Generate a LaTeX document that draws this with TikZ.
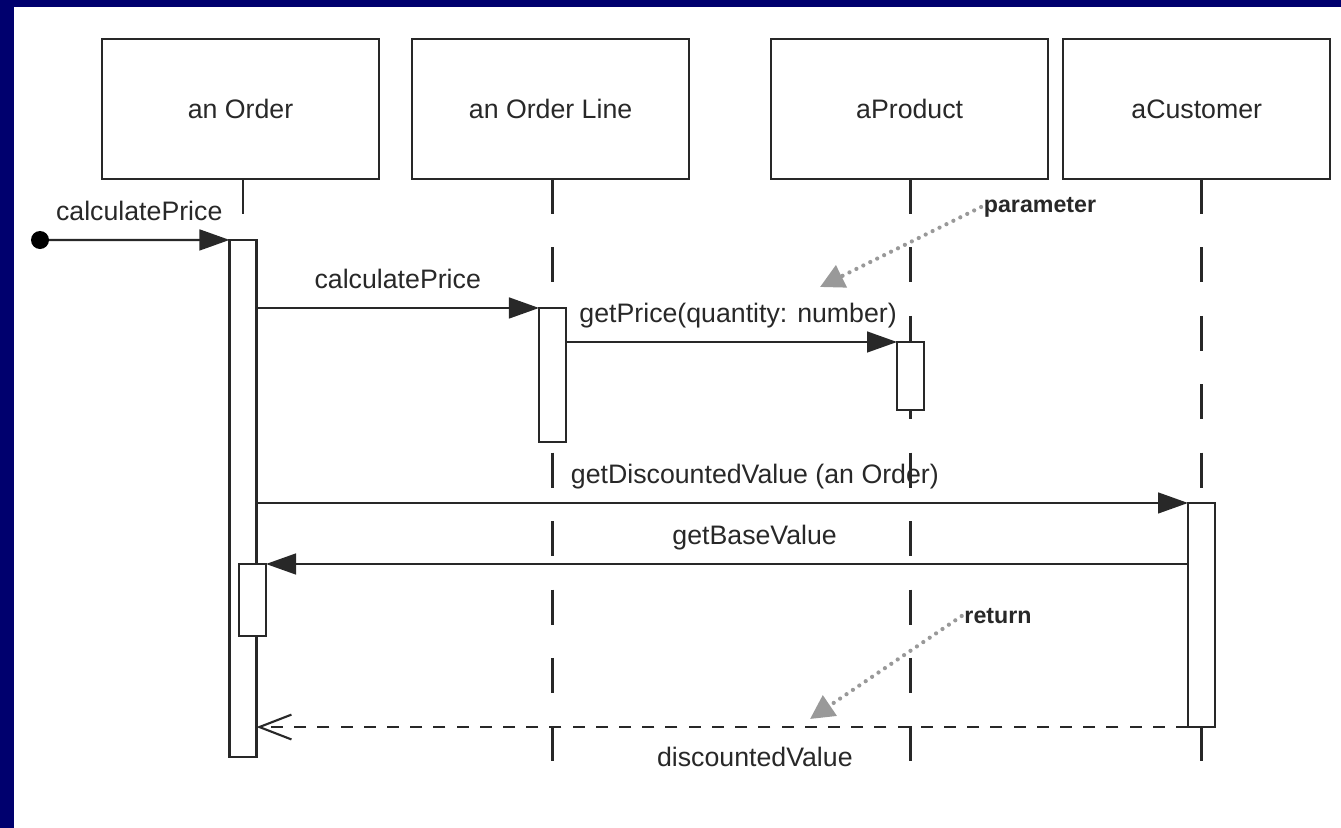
\documentclass[tikz,border=0pt]{standalone}
\usepackage{fontspec}
\setmainfont{Liberation Sans}
\usetikzlibrary{arrows.meta,positioning}
\definecolor{navy}{RGB}{0,0,110}
\definecolor{ink}{RGB}{40,40,40}

\begin{document}
\begin{tikzpicture}[x=0.025cm,y=-0.025cm,every node/.style={outer sep=0pt},
 obj/.style={draw=ink,line width=1.6pt,minimum width=6.925cm,minimum height=3.5cm,
 font=\fontsize{19}{23}\selectfont,text=ink},
 act/.style={draw=ink,line width=1.5pt,fill=white,minimum width=0.675cm,inner sep=0pt},
 lifeline/.style={draw=ink,line width=1.5pt,dash pattern=on 0.875cm off 0.835cm},
 msg/.style={draw=ink,line width=1.5pt,-{Triangle[length=0.75cm,width=0.52cm]}},
 ret/.style={draw=ink,line width=1.5pt,dash pattern=on 0.3cm off 0.28cm,
 -{Straight Barb[length=0.8cm,width=0.62cm]}},
 lbl/.style={anchor=base,yshift=0.475cm,inner sep=0pt,font=\fontsize{19}{23}\selectfont,text=ink},
 lblb/.style={anchor=base,yshift=-0.975cm,inner sep=0pt,font=\fontsize{19}{23}\selectfont,text=ink},
 note/.style={inner sep=2pt,font=\bfseries\fontsize{16.5}{20}\selectfont,text=ink},
 hint/.style={draw=black!40,line width=3pt,line cap=round,dash pattern=on 0pt off 5.5pt,
 -{Triangle[length=0.6cm,width=0.6cm]}},
 dot/.style={circle,fill=black,minimum size=0.45cm,inner sep=0pt}]

  % frame
  \fill[navy] (0,0) rectangle (1341,828);
  \fill[white] (14,7) rectangle (1341,828);
  \useasboundingbox (0,0) rectangle (1341,828);

  % objects
  \node[obj] (o1) at (240.5,109) {an Order};
  \node[obj,right=0.825cm of o1] (o2) {an Order Line};
  \node[obj,right=2.05cm of o2] (o3) {aProduct};
  \node[obj,minimum width=6.675cm,right=0.375cm of o3] (o4) {aCustomer};

  % lifelines
  \coordinate (bot) at (0,762);
  \path (243,498.5) coordinate (c1) (552.5,375) coordinate (c2)
        (910.5,376) coordinate (c3) (1201.5,615) coordinate (c4);
  \draw[lifeline] (c1 |- o1.south) -- (c1);
  \foreach \X in {2,3,4}
  {\draw[lifeline] (c\X |- o\X.south) -- (c\X |- bot);}

  % activations
  \node[act,minimum height=12.925cm] (a1) at (c1) {};
  \node[act,minimum height=1.8cm] (a1n) at (252.5,600) {};
  \node[act,minimum height=3.35cm] (a2) at (c2) {};
  \node[act,minimum height=1.7cm] (a3) at (c3) {};
  \node[act,minimum height=5.6cm] (a4) at (c4) {};

  % messages
  \node[dot] (start) at (40,240) {};
  \draw[msg] (start) -- (a1.north west) node[midway,lbl]{calculatePrice};
  \draw[msg] (a1.east |- a2.north) -- (a2.north west) node[midway,lbl]{calculatePrice};
  \draw[msg] (a2.east |- a3.north) -- (a3.north west)
   node[pos=0.52,lbl]{getPrice(quantity: number)};
  \draw[msg] (a1.east |- a4.north) -- (a4.north west)
   node[pos=0.535,lbl]{getDiscountedValue (an Order)};
  \draw[msg] (a4.west |- a1n.north) -- (a1n.north east) node[pos=0.47,lbl]{getBaseValue};
  \draw[ret] (a4.south west) -- (a1.east |- a4.south) node[pos=0.465,lblb]{discountedValue};

  % notes
  \node[note] (param) at (1040,207) {parameter};
  \coordinate (ptip) at (820,287);
  \draw[hint] (param.west) -- (ptip);
  \node[note] (retn) at (998,616) {return};
  \coordinate (rtip) at (810,719);
  \draw[hint] (retn.west) -- (rtip);
\end{tikzpicture}
\end{document}
